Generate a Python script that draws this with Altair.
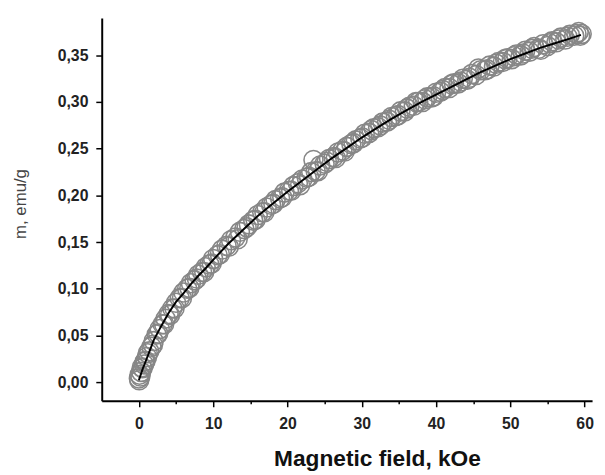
import altair as alt
import pandas as pd

# measured points (field kOe, moment emu/g)
field_pts = [0.0, 0.1, 0.2, 0.3, 0.5, 0.7, 0.9, 1.1, 1.4, 1.7, 2.0, 2.4, 2.8, 3.2, 3.6, 4.0,
             4.5, 5.0, 5.5, 6.0, 6.5, 7.0, 7.5, 8.0, 8.5, 9.0, 9.5, 10.0, 10.6, 11.2, 11.8,
             12.4, 13.0, 13.6, 14.2, 14.8, 15.4, 16.0, 16.6, 17.2, 17.8, 18.4, 19.0, 19.6,
             20.2, 20.8, 21.4, 22.0, 22.6, 23.2, 23.5, 23.8, 24.4, 25.0, 25.6, 26.2, 26.8,
             27.4, 28.0, 28.6, 29.2, 29.8, 30.4, 31.0, 31.6, 32.2, 32.8, 33.4, 34.0, 34.6,
             35.2, 35.8, 36.4, 37.0, 37.6, 38.2, 38.8, 39.4, 40.0, 40.6, 41.2, 41.8, 42.4,
             43.0, 43.6, 44.2, 44.8, 45.4, 46.0, 46.6, 47.2, 47.8, 48.4, 49.0, 49.6, 50.2,
             50.8, 51.4, 52.0, 52.6, 53.2, 53.8, 54.4, 55.0, 55.6, 56.2, 56.8, 57.4, 58.0,
             58.6, 59.2, 59.6,
             0.05, 0.4, 0.8, 1.2, 1.9, 2.6, 3.4, 4.2, 4.8, 5.8, 6.8, 7.8, 8.8, 9.8, 10.9,
             12.1, 13.3, 14.5, 15.7, 16.9, 18.1, 19.3, 20.5, 21.7, 22.9, 24.1, 25.3, 26.5,
             27.7, 28.9, 30.1, 31.3, 32.5, 33.7, 34.9, 36.1, 37.3, 38.5, 39.7, 40.9, 42.1,
             43.3, 44.5, 45.7, 46.9, 48.1, 49.3, 50.5, 51.7, 52.9, 54.1, 55.3, 56.5, 57.7,
             58.9, 59.4]
moment_pts = [0.004, 0.008, 0.006, 0.011, 0.015, 0.019, 0.023, 0.027, 0.033, 0.038, 0.044,
              0.051, 0.057, 0.062, 0.068, 0.073, 0.079, 0.085, 0.090, 0.096, 0.100, 0.106,
              0.109, 0.115, 0.118, 0.123, 0.126, 0.132, 0.136, 0.142, 0.146, 0.152, 0.155,
              0.161, 0.164, 0.169, 0.173, 0.179, 0.182, 0.187, 0.190, 0.195, 0.197, 0.203,
              0.205, 0.210, 0.213, 0.217, 0.219, 0.225, 0.238, 0.226, 0.232, 0.234, 0.239,
              0.241, 0.246, 0.248, 0.252, 0.255, 0.259, 0.261, 0.266, 0.267, 0.272, 0.273,
              0.278, 0.279, 0.284, 0.285, 0.290, 0.290, 0.295, 0.296, 0.300, 0.300, 0.305,
              0.305, 0.310, 0.311, 0.315, 0.315, 0.320, 0.320, 0.325, 0.324, 0.330, 0.329,
              0.334, 0.334, 0.339, 0.338, 0.343, 0.343, 0.347, 0.346, 0.351, 0.350, 0.355,
              0.354, 0.359, 0.357, 0.362, 0.360, 0.365, 0.364, 0.369, 0.367, 0.372, 0.371,
              0.375, 0.373,
              0.002, 0.016, 0.022, 0.031, 0.040, 0.052, 0.062, 0.072, 0.079, 0.090, 0.101,
              0.111, 0.118, 0.127, 0.137, 0.145, 0.153, 0.166, 0.174, 0.182, 0.191, 0.198,
              0.205, 0.211, 0.220, 0.226, 0.236, 0.240, 0.247, 0.256, 0.262, 0.270, 0.275,
              0.281, 0.286, 0.293, 0.300, 0.303, 0.306, 0.313, 0.319, 0.322, 0.326, 0.336,
              0.335, 0.341, 0.346, 0.349, 0.352, 0.357, 0.356, 0.363, 0.367, 0.370, 0.373,
              0.371]

# fitted curve
fit_field = [0, 0.5, 1, 2, 3, 4, 5, 6, 7, 8, 9, 10, 12, 14, 16, 18, 20, 22, 24, 26, 28, 30,
             32, 34, 36, 38, 40, 42, 44, 46, 48, 50, 52, 54, 56, 58, 59.5]
fit_moment = [0.002, 0.014, 0.024, 0.045, 0.060, 0.074, 0.086, 0.095, 0.105, 0.114, 0.122,
              0.131, 0.148, 0.163, 0.178, 0.191, 0.204, 0.216, 0.228, 0.240, 0.251, 0.262,
              0.272, 0.282, 0.291, 0.300, 0.308, 0.316, 0.324, 0.332, 0.339, 0.346, 0.352,
              0.358, 0.363, 0.368, 0.372]

x_ticks = [0, 5, 10, 15, 20, 25, 30, 35, 40, 45, 50, 55, 60]
y_ticks = [0.0, 0.025, 0.05, 0.075, 0.1, 0.125, 0.15, 0.175, 0.2, 0.225, 0.25, 0.275, 0.3,
           0.325, 0.35, 0.375]

pts = pd.DataFrame({"H": field_pts, "m": moment_pts})
fit = pd.DataFrame({"H": fit_field, "m": fit_moment})

FONT = "Liberation Sans"

xscale = alt.Scale(domain=[-5, 61], nice=False, zero=False)
yscale = alt.Scale(domain=[-0.02, 0.39], nice=False, zero=False)

xaxis = alt.Axis(
    values=x_ticks,
    labelExpr="datum.value % 10 == 0 ? datum.label : ''",
    tickSize={"condition": {"test": "datum.value % 10 != 0", "value": 3}, "value": 6},
    tickColor="black", tickWidth=1.5, domainColor="black", domainWidth=2,
    grid=False, labelFont=FONT, labelFontSize=16, labelFontWeight="bold",
    labelColor="#222", labelPadding=9, labelFlush=False,
    title="Magnetic field, kOe", titleFont=FONT, titleFontSize=23,
    titleFontWeight="bold", titleColor="#111", titleX=279, titleY=66,
    titleAlign="center", titleBaseline="alphabetic",
)
yaxis = alt.Axis(
    values=y_ticks,
    labelExpr="round(datum.value*1000) % 50 == 0 ? replace(format(datum.value, '.2f'), '.', ',') : ''",
    tickSize={"condition": {"test": "round(datum.value*1000) % 50 != 0", "value": 3}, "value": 6},
    tickColor="black", tickWidth=1.5, domainColor="black", domainWidth=2,
    grid=False, labelFont=FONT, labelFontSize=16, labelFontWeight="bold",
    labelColor="#222", labelPadding=8, labelFlush=False,
    title="m, emu/g", titleFont=FONT, titleFontSize=17, titleFontWeight="normal",
    titleColor="#444", titleX=-82, titleY=188, titleAngle=-90,
    titleAlign="center", titleBaseline="middle",
)

points = alt.Chart(pts).mark_point(
    shape="circle", filled=False, size=370, stroke="#878787", strokeWidth=1.6, opacity=1
).encode(
    x=alt.X("H:Q", scale=xscale, axis=xaxis),
    y=alt.Y("m:Q", scale=yscale, axis=yaxis),
)

line = alt.Chart(fit).mark_line(color="black", strokeWidth=2).encode(
    x=alt.X("H:Q", scale=xscale),
    y=alt.Y("m:Q", scale=yscale),
)

chart = alt.layer(points, line).properties(
    width=497, height=388,
    autosize=alt.AutoSizeParams(type="none"),
    padding={"left": 95, "top": 7, "right": 5, "bottom": 72},
    background="white",
).configure_view(stroke=None)

chart.save("out.html", embed_options={"renderer": "svg", "actions": False})
